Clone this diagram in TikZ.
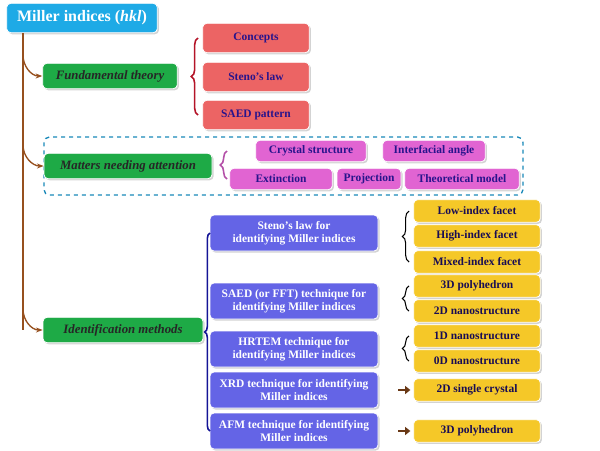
\documentclass[tikz,border=0pt]{standalone}
\usepackage{fontspec}
\setmainfont{Liberation Serif}
\usetikzlibrary{shadows,decorations.pathreplacing,arrows.meta}
\definecolor{cyanb}{RGB}{30,170,230}
\definecolor{greenb}{RGB}{30,170,70}
\definecolor{salmon}{RGB}{236,100,100}
\definecolor{pinkb}{RGB}{225,100,210}
\definecolor{blueb}{RGB}{100,100,230}
\definecolor{yellowb}{RGB}{245,200,40}
\definecolor{trunk}{RGB}{150,80,30}
\definecolor{txtblue}{RGB}{40,20,140}
\definecolor{darkred}{RGB}{180,20,40}
\definecolor{navy}{RGB}{20,20,150}
\tikzset{
  base/.style={rounded corners=3pt, draw=white, line width=0.6pt, drop shadow={opacity=0.35,shadow xshift=1.2pt,shadow yshift=-1.2pt}, align=center, font=\bfseries\fontsize{8.6}{9.6}\selectfont, inner sep=0pt},
  titlebox/.style={base, fill=cyanb, text=white, minimum width=113pt, minimum height=22pt, font=\bfseries\fontsize{12}{13}\selectfont},
  greenbox/.style={base, fill=greenb, text=black!85, font=\bfseries\itshape\fontsize{9.6}{10.6}\selectfont, minimum height=19pt},
  redbox/.style={base, fill=salmon, text=txtblue, minimum width=80pt, minimum height=22pt},
  pinkbox/.style={base, fill=pinkb, text=txtblue, minimum height=16pt},
  bluebox/.style={base, fill=blueb, text=white, minimum width=126pt, minimum height=27pt},
  yellowbox/.style={base, fill=yellowb, text=txtblue!60!black, minimum width=95pt, minimum height=17pt},
  brc/.style={decorate, decoration={brace, amplitude=5pt}, line width=1.2pt},
  trunkarrow/.style={trunk, line width=1pt, -{Stealth[length=5pt]}}
}
\begin{document}
\begin{tikzpicture}[x=0.75pt,y=-0.75pt]
\useasboundingbox (0,0) rectangle (600,450);
% dashed box
\draw[cyanb!80!black, dashed, line width=1pt, rounded corners=4pt] (44,137) rectangle (523,195);
% nodes
\node[titlebox] (title) at (82,18) {Miller indices (\textit{hkl})};
\node[greenbox, minimum width=101pt] (fund) at (110,76) {Fundamental theory};
\node[redbox] (concepts) at (256,38) {Concepts};
\node[redbox] (steno) at (256,77) {Steno’s law};
\node[redbox] (saedp) at (256,115) {SAED pattern};
\node[greenbox, minimum width=126pt] (matters) at (128,166) {Matters needing attention};
\node[pinkbox, minimum width=83pt] (crystal) at (311,151) {Crystal structure};
\node[pinkbox, minimum width=77pt] (inter) at (434,151) {Interfacial angle};
\node[pinkbox, minimum width=77pt] (ext) at (281,179) {Extinction};
\node[pinkbox, minimum width=48pt] (proj) at (369,179) {Projection};
\node[pinkbox, minimum width=86pt] (theo) at (462,179) {Theoretical model};
\node[greenbox, minimum width=120pt] (ident) at (123,330) {Identification methods};
\node[bluebox] (m1) at (294,233) {Steno’s law for\\identifying Miller indices};
\node[bluebox] (m2) at (294,301) {SAED (or FFT) technique for\\identifying Miller indices};
\node[bluebox] (m3) at (294,349) {HRTEM technique for\\identifying Miller indices};
\node[bluebox] (m4) at (294,390) {XRD technique for identifying\\Miller indices};
\node[bluebox] (m5) at (294,431) {AFM technique for identifying\\Miller indices};
\node[yellowbox] (y1) at (477,211) {Low-index facet};
\node[yellowbox] (y2) at (477,236) {High-index facet};
\node[yellowbox] (y3) at (477,262) {Mixed-index facet};
\node[yellowbox] (y4) at (477,286) {3D polyhedron};
\node[yellowbox] (y5) at (477,311) {2D nanostructure};
\node[yellowbox] (y6) at (477,336) {1D nanostructure};
\node[yellowbox] (y7) at (477,361) {0D nanostructure};
\node[yellowbox] (y8) at (477,390) {2D single crystal};
\node[yellowbox] (y9) at (477,431) {3D polyhedron};
% trunk
\coordinate (tb) at (23,33);
\coordinate (tend) at (23,330);
\draw[trunk, line width=1pt] (tb) -- (tend);
\draw[trunkarrow] (23,55) to[out=-90,in=180] (fund.west);
\draw[trunkarrow] (23,145) to[out=-90,in=180] (matters.west);
\draw[trunkarrow] (23,309) to[out=-90,in=180] (ident.west);
% braces
\draw[brc, darkred] (198,115) -- (198,38);
\draw[brc, pinkb!80!black] (227,179) -- (227,151);
\draw[brc, navy, decoration={amplitude=4pt}] (210,431) -- (210,233);
\draw[brc, black, line width=0.8pt] (409,262) -- (409,211);
\draw[brc, black, line width=0.8pt] (409,311) -- (409,286);
\draw[brc, black, line width=0.8pt] (409,361) -- (409,336);
% arrows
\draw[-{Triangle[length=4pt,width=6pt]}, line width=2pt, trunk!70!black] (m4.east)++(20,0) -- ++(12,0);
\draw[-{Triangle[length=4pt,width=6pt]}, line width=2pt, trunk!70!black] (m5.east)++(20,0) -- ++(12,0);
\end{tikzpicture}
\end{document}
